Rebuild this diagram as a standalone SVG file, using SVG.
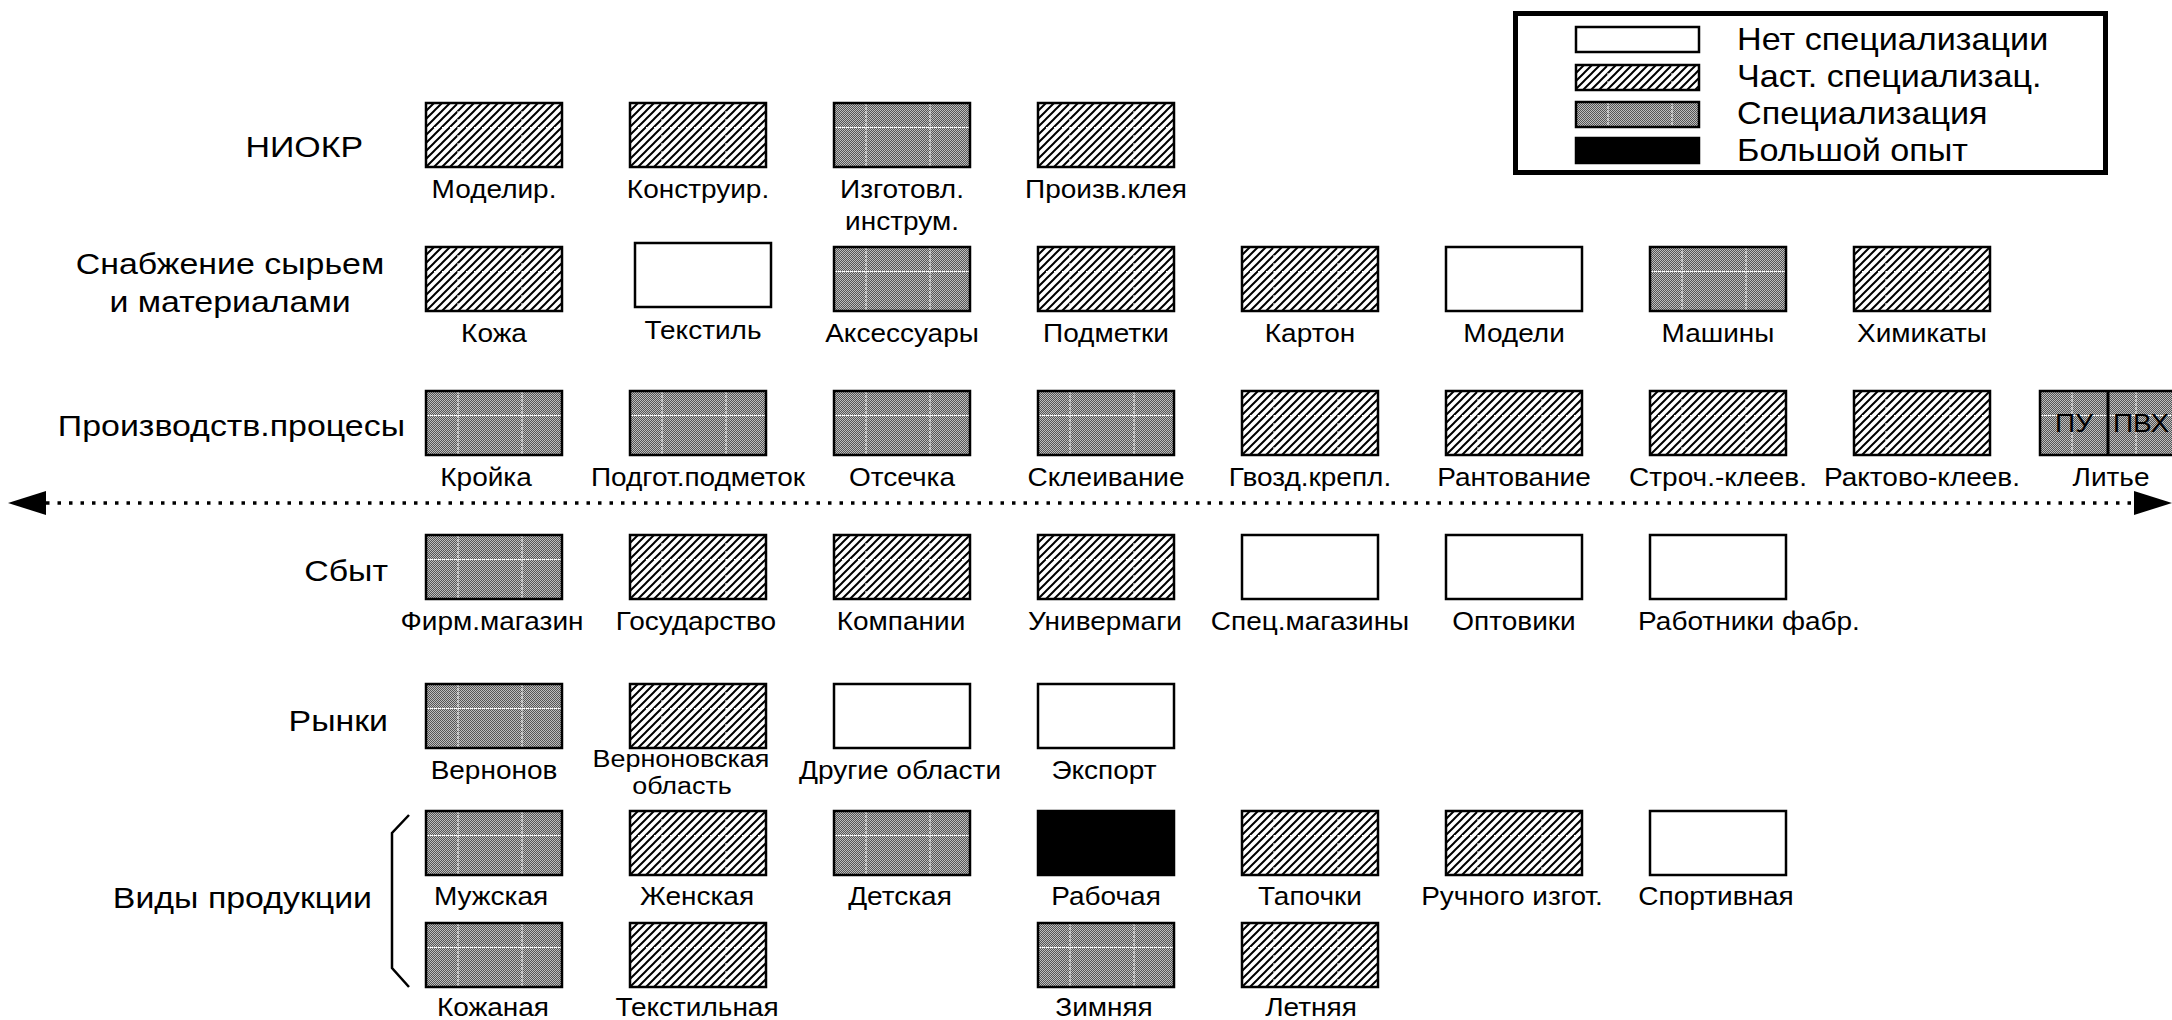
<svg xmlns="http://www.w3.org/2000/svg" width="2172" height="1020" viewBox="0 0 2172 1020">
<style>
text{font-family:"Liberation Sans",Arial,sans-serif;fill:#000}
.lbl{font-size:25px;text-anchor:middle}
.sm{font-size:23px}
.row{font-size:30px;text-anchor:end}
.rowc{font-size:30px;text-anchor:middle}
.leg{font-size:30.5px}
.box{stroke:#000;stroke-width:2.5}
.w{fill:#fff}.h{fill:url(#hatchBox)}.s{fill:url(#specBox)}.b{fill:#000}
.axis{fill:none;stroke:#000;stroke-width:3.5;stroke-dasharray:3.5 8}
.brace{fill:none;stroke:#000;stroke-width:2.5}
</style>
<defs>
<pattern id="stip" width="2" height="2" patternUnits="userSpaceOnUse"><rect width="2" height="2" fill="#bdbdbd"/><rect width="1" height="1" fill="#555"/><rect x="1" y="1" width="1" height="1" fill="#555"/></pattern>
<pattern id="hatch" width="8" height="8" patternUnits="userSpaceOnUse"><path d="M-2,2 L2,-2 M0,8 L8,0 M6,10 L10,6" stroke="#000" stroke-width="2"/></pattern>
<pattern id="specBox" patternUnits="objectBoundingBox" width="1" height="1"><rect width="200" height="100" fill="url(#stip)"/><path d="M32,0 V100 M96,0 V100 M0,24.5 H200" stroke="#fff" stroke-width="1" stroke-dasharray="3 1"/></pattern>
<pattern id="hatchBox" patternUnits="objectBoundingBox" width="1" height="1"><rect width="200" height="100" fill="#fff"/><rect width="200" height="100" fill="url(#hatch)"/><path d="M32,0 V100 M96,0 V100 M0,24.5 H200" stroke="#fff" stroke-width="1" stroke-dasharray="2 2"/></pattern>
<marker id="ah" viewBox="0 0 38 24" refX="0" refY="12" markerWidth="38" markerHeight="24" markerUnits="userSpaceOnUse" orient="auto-start-reverse"><path d="M0,0 L38,12 L0,24 Z" fill="#000"/></marker>
</defs>
<rect width="2172" height="1020" fill="#fff"/>

<g id="legend">
<rect x="1515.5" y="13.5" width="590" height="159" fill="#fff" stroke="#000" stroke-width="5"/>
<rect class="box w" x="1576" y="27" width="123" height="25"/>
<rect class="box h" x="1576" y="65" width="123" height="25"/>
<rect class="box s" x="1576" y="102" width="123" height="25"/>
<rect class="box b" x="1576" y="138" width="123" height="25"/>
<text class="leg" transform="translate(1737 50) scale(1.12 1)">Нет специализации</text>
<text class="leg" transform="translate(1737 87) scale(1.12 1)">Част. специализац.</text>
<text class="leg" transform="translate(1737 124) scale(1.12 1)">Специализация</text>
<text class="leg" transform="translate(1737 161) scale(1.12 1)">Большой опыт</text>
</g>

<g id="row-labels">
<text class="row" transform="translate(363 157) scale(1.13 1)">НИОКР</text>
<text class="rowc" transform="translate(230 274) scale(1.13 1)">Снабжение сырьем</text>
<text class="rowc" transform="translate(230 312) scale(1.13 1)">и материалами</text>
<text class="row" transform="translate(405 436) scale(1.13 1)">Производств.процесы</text>
<text class="row" transform="translate(388 581) scale(1.13 1)">Сбыт</text>
<text class="row" transform="translate(388 731) scale(1.13 1)">Рынки</text>
<text class="row" transform="translate(372 908) scale(1.13 1)">Виды продукции</text>
</g>

<g id="connectors">
<path class="axis" d="M46,503 H2134" marker-start="url(#ah)" marker-end="url(#ah)"/>
</g>
<path id="brace" class="brace" d="M409,815 L392,833 V968 L409,987"/>

<!-- R1 НИОКР -->
<g id="n-modelir"><rect class="box h" x="426" y="103" width="136" height="64"/><text class="lbl" transform="translate(494 198) scale(1.12 1)">Моделир.</text></g>
<g id="n-konstr"><rect class="box h" x="630" y="103" width="136" height="64"/><text class="lbl" transform="translate(698 198) scale(1.12 1)">Конструир.</text></g>
<g id="n-izgotovl"><rect class="box s" x="834" y="103" width="136" height="64"/><text class="lbl" transform="translate(902 198) scale(1.12 1)">Изготовл.</text><text class="lbl" transform="translate(902 230) scale(1.12 1)">инструм.</text></g>
<g id="n-kley"><rect class="box h" x="1038" y="103" width="136" height="64"/><text class="lbl" transform="translate(1106 198) scale(1.12 1)">Произв.клея</text></g>

<!-- R2 Снабжение -->
<g id="n-kozha"><rect class="box h" x="426" y="247" width="136" height="64"/><text class="lbl" transform="translate(494 342) scale(1.12 1)">Кожа</text></g>
<g id="n-tekstil"><rect class="box w" x="635" y="243" width="136" height="64"/><text class="lbl" transform="translate(703 339) scale(1.12 1)">Текстиль</text></g>
<g id="n-aksess"><rect class="box s" x="834" y="247" width="136" height="64"/><text class="lbl" transform="translate(902 342) scale(1.12 1)">Аксессуары</text></g>
<g id="n-podmetki"><rect class="box h" x="1038" y="247" width="136" height="64"/><text class="lbl" transform="translate(1106 342) scale(1.12 1)">Подметки</text></g>
<g id="n-karton"><rect class="box h" x="1242" y="247" width="136" height="64"/><text class="lbl" transform="translate(1310 342) scale(1.12 1)">Картон</text></g>
<g id="n-modeli"><rect class="box w" x="1446" y="247" width="136" height="64"/><text class="lbl" transform="translate(1514 342) scale(1.12 1)">Модели</text></g>
<g id="n-mashiny"><rect class="box s" x="1650" y="247" width="136" height="64"/><text class="lbl" transform="translate(1718 342) scale(1.12 1)">Машины</text></g>
<g id="n-khimikaty"><rect class="box h" x="1854" y="247" width="136" height="64"/><text class="lbl" transform="translate(1922 342) scale(1.12 1)">Химикаты</text></g>

<!-- R3 Производство -->
<g id="n-kroyka"><rect class="box s" x="426" y="391" width="136" height="64"/><text class="lbl" transform="translate(486 486) scale(1.12 1)">Кройка</text></g>
<g id="n-podgot"><rect class="box s" x="630" y="391" width="136" height="64"/><text class="lbl" transform="translate(698 486) scale(1.12 1)">Подгот.подметок</text></g>
<g id="n-otsechka"><rect class="box s" x="834" y="391" width="136" height="64"/><text class="lbl" transform="translate(902 486) scale(1.12 1)">Отсечка</text></g>
<g id="n-skleiv"><rect class="box s" x="1038" y="391" width="136" height="64"/><text class="lbl" transform="translate(1106 486) scale(1.12 1)">Склеивание</text></g>
<g id="n-gvozd"><rect class="box h" x="1242" y="391" width="136" height="64"/><text class="lbl" transform="translate(1310 486) scale(1.12 1)">Гвозд.крепл.</text></g>
<g id="n-rant"><rect class="box h" x="1446" y="391" width="136" height="64"/><text class="lbl" transform="translate(1514 486) scale(1.12 1)">Рантование</text></g>
<g id="n-stroch"><rect class="box h" x="1650" y="391" width="136" height="64"/><text class="lbl" transform="translate(1718 486) scale(1.12 1)">Строч.-клеев.</text></g>
<g id="n-raktovo"><rect class="box h" x="1854" y="391" width="136" height="64"/><text class="lbl" transform="translate(1922 486) scale(1.12 1)">Рактово-клеев.</text></g>
<g id="n-lite"><rect class="box s" x="2040" y="391" width="137" height="64"/><line x1="2108" y1="391" x2="2108" y2="455" stroke="#000" stroke-width="3"/><text class="lbl" transform="translate(2074 432) scale(1.12 1)">ПУ</text><text class="lbl" transform="translate(2141 432) scale(1.12 1)">ПВХ</text><text class="lbl" transform="translate(2111 486) scale(1.12 1)">Литье</text></g>

<!-- R4 Сбыт -->
<g id="n-firm"><rect class="box s" x="426" y="535" width="136" height="64"/><text class="lbl" transform="translate(492 630) scale(1.12 1)">Фирм.магазин</text></g>
<g id="n-gos"><rect class="box h" x="630" y="535" width="136" height="64"/><text class="lbl" transform="translate(696 630) scale(1.12 1)">Государство</text></g>
<g id="n-komp"><rect class="box h" x="834" y="535" width="136" height="64"/><text class="lbl" transform="translate(901 630) scale(1.12 1)">Компании</text></g>
<g id="n-univer"><rect class="box h" x="1038" y="535" width="136" height="64"/><text class="lbl" transform="translate(1105 630) scale(1.12 1)">Универмаги</text></g>
<g id="n-spec"><rect class="box w" x="1242" y="535" width="136" height="64"/><text class="lbl" transform="translate(1310 630) scale(1.12 1)">Спец.магазины</text></g>
<g id="n-opt"><rect class="box w" x="1446" y="535" width="136" height="64"/><text class="lbl" transform="translate(1514 630) scale(1.12 1)">Оптовики</text></g>
<g id="n-rabotn"><rect class="box w" x="1650" y="535" width="136" height="64"/><text class="lbl" transform="translate(1749 630) scale(1.12 1)">Работники фабр.</text></g>

<!-- R5 Рынки -->
<g id="n-vernonov"><rect class="box s" x="426" y="684" width="136" height="64"/><text class="lbl" transform="translate(494 779) scale(1.12 1)">Вернонов</text></g>
<g id="n-vernobl"><rect class="box h" x="630" y="684" width="136" height="64"/><text class="lbl sm" transform="translate(681 767) scale(1.17 1)">Верноновская</text><text class="lbl sm" transform="translate(682 794) scale(1.17 1)">область</text></g>
<g id="n-drugie"><rect class="box w" x="834" y="684" width="136" height="64"/><text class="lbl" transform="translate(900 779) scale(1.12 1)">Другие области</text></g>
<g id="n-eksport"><rect class="box w" x="1038" y="684" width="136" height="64"/><text class="lbl" transform="translate(1104 779) scale(1.12 1)">Экспорт</text></g>

<!-- R6 Виды продукции -->
<g id="n-muzh"><rect class="box s" x="426" y="811" width="136" height="64"/><text class="lbl" transform="translate(491 905) scale(1.12 1)">Мужская</text></g>
<g id="n-zhen"><rect class="box h" x="630" y="811" width="136" height="64"/><text class="lbl" transform="translate(697 905) scale(1.12 1)">Женская</text></g>
<g id="n-det"><rect class="box s" x="834" y="811" width="136" height="64"/><text class="lbl" transform="translate(900 905) scale(1.12 1)">Детская</text></g>
<g id="n-rab"><rect class="box b" x="1038" y="811" width="136" height="64"/><text class="lbl" transform="translate(1106 905) scale(1.12 1)">Рабочая</text></g>
<g id="n-tap"><rect class="box h" x="1242" y="811" width="136" height="64"/><text class="lbl" transform="translate(1310 905) scale(1.12 1)">Тапочки</text></g>
<g id="n-ruch"><rect class="box h" x="1446" y="811" width="136" height="64"/><text class="lbl" transform="translate(1512 905) scale(1.12 1)">Ручного изгот.</text></g>
<g id="n-sport"><rect class="box w" x="1650" y="811" width="136" height="64"/><text class="lbl" transform="translate(1716 905) scale(1.12 1)">Спортивная</text></g>

<!-- R7 -->
<g id="n-kozh"><rect class="box s" x="426" y="923" width="136" height="64"/><text class="lbl" transform="translate(493 1016) scale(1.12 1)">Кожаная</text></g>
<g id="n-tekst"><rect class="box h" x="630" y="923" width="136" height="64"/><text class="lbl" transform="translate(697 1016) scale(1.12 1)">Текстильная</text></g>
<g id="n-zim"><rect class="box s" x="1038" y="923" width="136" height="64"/><text class="lbl" transform="translate(1104 1016) scale(1.12 1)">Зимняя</text></g>
<g id="n-let"><rect class="box h" x="1242" y="923" width="136" height="64"/><text class="lbl" transform="translate(1311 1016) scale(1.12 1)">Летняя</text></g>
</svg>
